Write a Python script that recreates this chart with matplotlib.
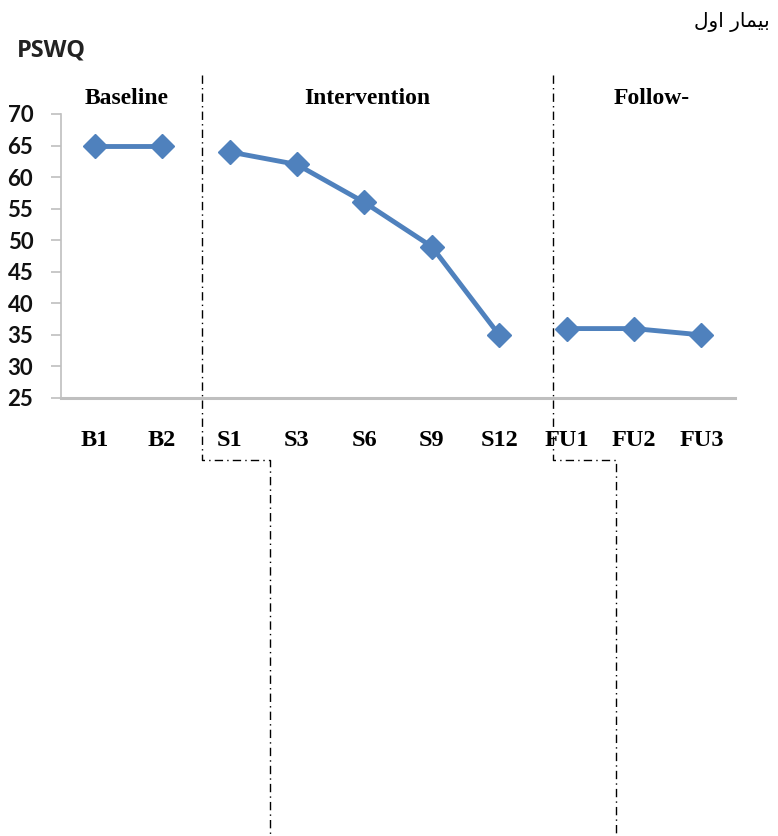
import matplotlib
matplotlib.use("Agg")
import matplotlib.pyplot as plt
from matplotlib.lines import Line2D

# data
sessions = ["B1", "B2", "S1", "S3", "S6", "S9", "S12", "FU1", "FU2", "FU3"]
pswq = [65, 65, 64, 62, 56, 49, 35, 36, 36, 35]
phases = ["Baseline", "Intervention", "Follow-"]
phase_slices = [(0, 2), (2, 7), (7, 10)]
y_ticks = [25, 30, 35, 40, 45, 50, 55, 60, 65, 70]

W, H = 778, 836
fig = plt.figure(figsize=(W / 100, H / 100), dpi=100)
fig.patch.set_facecolor("white")

ax = fig.add_axes([61 / W, 1 - 398 / H, (735 - 61) / W, (398 - 114) / H])
x = list(range(len(sessions)))
for a, b in phase_slices:
    ax.plot(x[a:b], pswq[a:b], color="#4F81BD", lw=3.5, marker="D", ms=12.5,
            markeredgecolor="#4F81BD", solid_capstyle="round")

ax.set_xlim(-0.5, len(sessions) - 0.5)
ax.set_ylim(25, 70)
ax.set_yticks(y_ticks)
ax.set_yticklabels([str(v) for v in y_ticks], fontfamily="Lato", fontsize=16,
                   fontweight="bold", color="#111111")
ax.set_xticks(x)
ax.set_xticklabels(sessions, fontfamily="Liberation Serif", fontsize=17.5,
                   fontweight="bold")
ax.tick_params(axis="x", length=0, pad=23)
ax.tick_params(axis="y", length=7, width=1.2, color="#bfbfbf", pad=13)
for s in ["top", "right"]:
    ax.spines[s].set_visible(False)
ax.spines["left"].set_color("#bfbfbf")
ax.spines["left"].set_linewidth(1.2)
ax.spines["bottom"].set_color("#bfbfbf")
ax.spines["bottom"].set_linewidth(2.2)

# overlay in pixel coordinates for titles and phase separators
ov = fig.add_axes([0, 0, 1, 1], facecolor="none")
ov.set_xlim(0, W)
ov.set_ylim(H, 0)
ov.axis("off")

ov.text(17, 51, "PSWQ", fontfamily="Open Sans", fontweight="bold", fontsize=17,
        va="center", ha="left", color="#222222")
# "بیمار اول" in presentation forms, visual order
ov.text(770, 22, "\uFEDD\uFEED\uFE8D \uFEAD\uFE8E\uFEE4\uFEF4\uFE91",
        fontfamily="DejaVu Sans", fontsize=14.5, ha="right", va="center")

label_x = [127, 367, 652]
for name, lx in zip(phases, label_x):
    ov.text(lx, 98, name, fontfamily="Liberation Serif", fontweight="bold",
            fontsize=17, ha="center", va="center")

for (x1, x2) in [(202, 270), (553, 616)]:
    ov.add_line(Line2D([x1, x1, x2, x2], [75, 460, 460, H], color="black",
                       lw=1.0, linestyle=(0, (6, 3, 1, 3))))

fig.savefig("out.png", dpi=100)
